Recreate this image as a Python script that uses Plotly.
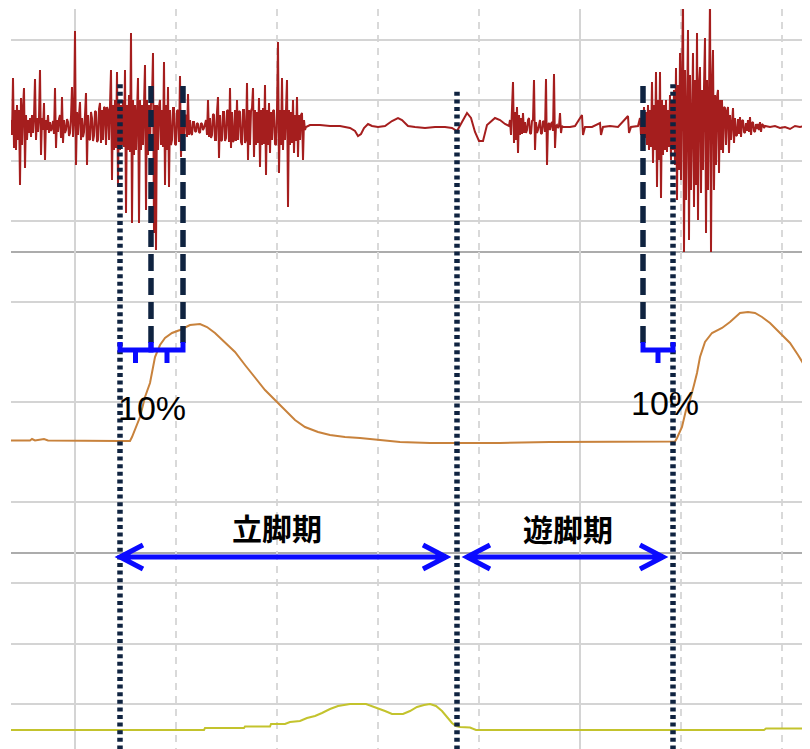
import plotly.graph_objects as go

# ---------------- data (x = frame index, 1 frame = 2 ms; EMG in µV; angle in deg) ----------------
EMG_BURST_A_START = 11
EMG_BURST_A = [70,-80,490,-210,170,-230,220,-130,170,-580,
               290,-180,190,390,-410,120,-130,70,-60,90,
               -100,120,-60,100,480,-130,90,-50,100,570,
               -280,90,-30,240,-330,70,-30,120,-60,50,
               -40,-10,60,-70,390,-210,70,-50,80,120,
               -110,300,-160,70,-60,-30,80,50,-90,-60,
               100,400,-100,70,960,-380,150,-80,120,250,
               -130,90,-100,-50,120,340,-380,120,-120,-130,
               150,90,-140,-90,160,150,-150,-130,180,240,
               -160,170,-130,200,190,-180,200,170,-130,220,
               570,-530,220,-230,270,-210,550,-600,270,-230,
               220,-180,270,-200,570,-860,220,-230,320,-250,
               940,-960,270,-280,220,-230,250,490,-960,270,
               -230,220,-180,250,620,-830,270,-280,220,-180,
               230,270,740,-1060,220,-1230,220,-230,200,270,
               -180,170,-200,650,-580,220,-230,400,-600,170,
               -180,-130,190,190,-170,-180,160,170,-150,510,
               -300,120,-120,-130,110,120,-100,330,-80,70,
               -60,-80,50,50,-40,-50,40,30,-50,-60,
               40,30,-30,-10,40,70,-80,270,-100,90,
               -110,-80,130,120,-130,-130,150,300,-310,120,
               -140,-130,150,150,-140,-110,160,170,-150,390,
               -210,150,-150,-130,170,-140,270,-130,160,150,
               -150,-180,170,170,-160,-130,440,-330,170,-180,
               160,190,390,-300,170,-180,150,-160,290,-400,
               170,-180,190,-170,420,-480,170,-180,240,-260,
               150,-130,160,170,-170,-180,160,850,-460,170,
               -180,490,-230,170,-130,150,470,-800,170,-180,
               150,-160,270,-260,120,-140,300,-300,120,-130,
               120,140,-330,70,-30]

EMG_BURST_B_START = 510
EMG_BURST_B = [70,-80,170,450,-160,150,-130,200,-260,120,
               -80,90,-70,140,-60,50,-60,-30,70,90,
               -60,-70,60,70,470,-230,50,-60,-30,50,
               70,-70,-60,60,50,-50,480,-380,20,40,
               -30,30,50,-40,530,-210,10,20,-10,10,
               140,-60,10,0]

EMG_BURST_C_START = 640
EMG_BURST_C = [90,-80,170,-130,200,-110,150,-180,220,-230,
               170,-200,450,-360,220,-230,550,-600,270,-330,
               550,-710,270,-280,220,-230,270,-250,170,-200,
               320,-330,270,-230,370,-380,590,-730,420,-430,
               740,-530,470,1270,-1260,570,-730,470,970,-1130,
               520,-630,370,740,-800,470,-580,940,-930,420,
               600,-660,370,-430,400,890,-1060,470,-630,370,
               1270,-1250,420,770,-630,320,-380,300,370,-460,
               270,-230,270,-260,200,190,-180,160,200,-260,
               120,-130,120,190,-160,90,-90,-80,80,-70,
               100,-100,60,70,-50,-60,40,-40,70,-50,
               100,-80,40,50,-40,-50,30,-20,30,-30,
               50,-50,30,20,-10,10]

EMG_QUIET_FRAME = [306,310,320,330,340,345,350,355,358,361,364,368,372,378,385,392,398,402,408,415,
                   425,435,445,452,457,462,467,471,475,479,483,487,491,495,500,505,509,
                   566,570,575,582,583,585,592,600,601,603,610,618,628,629,631,638,
                   770,775,780,785,790,795,800,805,810]
EMG_QUIET_UV = [0,20,20,10,10,0,-10,-40,-90,-70,-10,30,10,0,10,60,90,70,10,0,
                -10,0,0,-10,-40,50,140,90,-50,-140,-140,20,60,90,70,30,10,
                0,0,10,120,-80,0,0,40,-80,0,10,0,110,-60,0,10,
                0,10,-10,0,-20,10,0,10,10]

ANGLE_FRAME = [11,30,32,35,44,48,120,130,132,135,140,145,150,155,160,165,172,180,190,200,207,215,225,235,245,255,265,275,285,295,305,318,
               330,345,360,380,400,430,460,500,550,600,640,675,677,682,686,690,694,697,700,705,712,722,730,740,748,755,762,770,780,790,798,806,810]
ANGLE_DEG = [12.3,12.3,12.6,12.3,12.6,12.3,12.2,12.2,13.0,14.4,17.0,21.0,23.8,29.0,31.4,32.8,33.8,34.4,35.4,35.6,35.0,33.8,32.0,30.0,27.4,24.8,22.4,20.4,18.4,16.4,15.0,14.0,
             13.4,13.0,12.8,12.4,12.0,11.8,11.8,11.8,12.0,12.1,12.1,12.1,12.8,15.0,18.4,20.4,23.4,25.8,29.0,32.0,33.8,34.8,36.0,37.8,38.0,37.8,37.0,35.8,33.8,31.8,29.4,26.8,24.8]

CH3_FRAME = [11,204,205,244,245,270,271,285,290,300,307,315,322,330,338,345,350,366,372,378,385,392,403,410,417,424,430,436,442,447,452,456,460,470,476,764,766,810]
CH3_VAL = [0,0,2,2,3.5,3.5,6,6,8,9,12,14,17,21,24,25.5,26,26,24,22,19,16,16,19,23,25,26,24,19,13,7,4,3,2.5,0,0,1.5,1.5]

HEEL_STRIKE = [120, 673]
TOE_OFF = [457]
WINDOW_LINES = [151, 183, 643]
PHASE_LABELS = ["立脚期", "遊脚期"]
PCT_LABEL = "10%"

# assemble EMG samples in time order
emg = {}
for start, vals in ((EMG_BURST_A_START, EMG_BURST_A), (EMG_BURST_B_START, EMG_BURST_B), (EMG_BURST_C_START, EMG_BURST_C)):
    for i, v in enumerate(vals):
        emg[start + i] = v
for f, v in zip(EMG_QUIET_FRAME, EMG_QUIET_UV):
    emg[f] = v
emg_x = sorted(emg)
emg_y = [emg[f] for f in emg_x]

# ---------------- layout helpers (page body has an 8px offset) ----------------
W, H = 810, 749
OFF = 8
M_L, M_T = 11 - OFF, 9 - OFF
PLOT_BOTTOM = H + OFF
PLOT_H = H - M_T


def py(px):
    return (PLOT_BOTTOM - px) / PLOT_H


NAVY = "#0f2340"
BLUE = "#0a0aff"
GRID = "#d4d4d4"

fig = go.Figure()
fig.add_trace(go.Scatter(x=emg_x, y=emg_y, mode="lines", line=dict(color="#a51e1e", width=2),
                         xaxis="x", yaxis="y", hoverinfo="skip"))
fig.add_trace(go.Scatter(x=ANGLE_FRAME, y=ANGLE_DEG, mode="lines", line=dict(color="#c8823c", width=2),
                         xaxis="x2", yaxis="y2", hoverinfo="skip"))
fig.add_trace(go.Scatter(x=CH3_FRAME, y=CH3_VAL, mode="lines", line=dict(color="#c3c32d", width=2),
                         xaxis="x3", yaxis="y3", hoverinfo="skip"))

xr = [11, 11 + (W - M_L)]
d1 = [py(252), 1]
d2 = [py(553), py(252)]
d3 = [0, py(553)]


def xax(anchor):
    return dict(range=xr, domain=[0, 1], anchor=anchor, showticklabels=False, ticks="", zeroline=False,
                showgrid=True, gridcolor=GRID, gridwidth=2, tick0=75, dtick=505,
                minor=dict(tick0=75, dtick=101, showgrid=True, gridcolor="#d9d9d9", gridwidth=1.5, griddash="7px,6px"))


def yax(domain, rng, tick0, dtick, anchor):
    return dict(domain=domain, range=rng, anchor=anchor, showticklabels=False, ticks="", zeroline=False,
                showgrid=True, gridcolor=GRID, gridwidth=2, tick0=tick0, dtick=dtick)


fig.update_layout(
    width=W, height=H, margin=dict(l=M_L, r=0, t=M_T, b=0),
    paper_bgcolor="white", plot_bgcolor="white", showlegend=False,
    xaxis=xax("y"), xaxis2=xax("y2"), xaxis3=xax("y3"),
    yaxis=yax(d1, [(127 - 252) * 10, (127 - 9) * 10], 270, 605, "x"),
    yaxis2=yax(d2, [-10.2, 50], 0, 20, "x2"),
    yaxis3=yax(d3, [730 - PLOT_BOTTOM, 177], 26, 60.5, "x3"),
)

shapes = []
for yy in (py(252), py(553)):
    shapes.append(dict(type="line", xref="paper", yref="paper", x0=0, x1=1, y0=yy, y1=yy,
                       line=dict(color="#acacac", width=2), layer="below"))

for f in HEEL_STRIKE + TOE_OFF:
    top = py(89) if f in TOE_OFF else py(84)
    shapes.append(dict(type="line", xref="x", yref="paper", x0=f, x1=f, y0=0, y1=top,
                       line=dict(color=NAVY, width=5.5, dash="4px,3.6px")))
for f in WINDOW_LINES:
    shapes.append(dict(type="line", xref="x", yref="paper", x0=f, x1=f, y0=py(343), y1=py(84),
                       line=dict(color=NAVY, width=5.5, dash="17px,7px")))

yb_top, yb, yb_tick = py(342), py(350), py(363)
spans = [(HEEL_STRIKE[0], WINDOW_LINES[0]), (WINDOW_LINES[0], WINDOW_LINES[1]), (WINDOW_LINES[2], HEEL_STRIKE[1])]
for a, b in spans:
    m = (a + b) / 2
    path = f"M {a},{yb_top} L {a},{yb} L {b},{yb} L {b},{yb_top} M {m},{yb} L {m},{yb_tick}"
    shapes.append(dict(type="path", xref="x", yref="paper", path=path, line=dict(color=BLUE, width=5)))

ya = py(557)
dy = 12 / PLOT_H
arm = 23
arrows = [(HEEL_STRIKE[0], TOE_OFF[0] - 11), (TOE_OFF[0] + 10, HEEL_STRIKE[1] - 10)]
for a, b in arrows:
    path = (f"M {a},{ya} L {b},{ya} "
            f"M {a + arm},{ya + dy} L {a},{ya} L {a + arm},{ya - dy} "
            f"M {b - arm},{ya + dy} L {b},{ya} L {b - arm},{ya - dy}")
    shapes.append(dict(type="path", xref="x", yref="paper", path=path, line=dict(color=BLUE, width=5)))

fig.update_layout(shapes=shapes)

ann = []
for label, xc, yc in zip(PHASE_LABELS, (277, 568), (527, 528)):
    ann.append(dict(x=xc, y=py(yc), xref="x", yref="paper", text=f"<b>{label}</b>", showarrow=False,
                    font=dict(family="Noto Sans CJK JP", size=30, color="black"), xanchor="center", yanchor="middle"))
for xc, yc in ((151.5, 408), (665, 403)):
    ann.append(dict(x=xc, y=py(yc), xref="x", yref="paper", text=PCT_LABEL, showarrow=False,
                    font=dict(family="Liberation Sans, Arial", size=34, color="black"), xanchor="center", yanchor="middle"))
fig.update_layout(annotations=ann)

fig.write_html("out.html")
